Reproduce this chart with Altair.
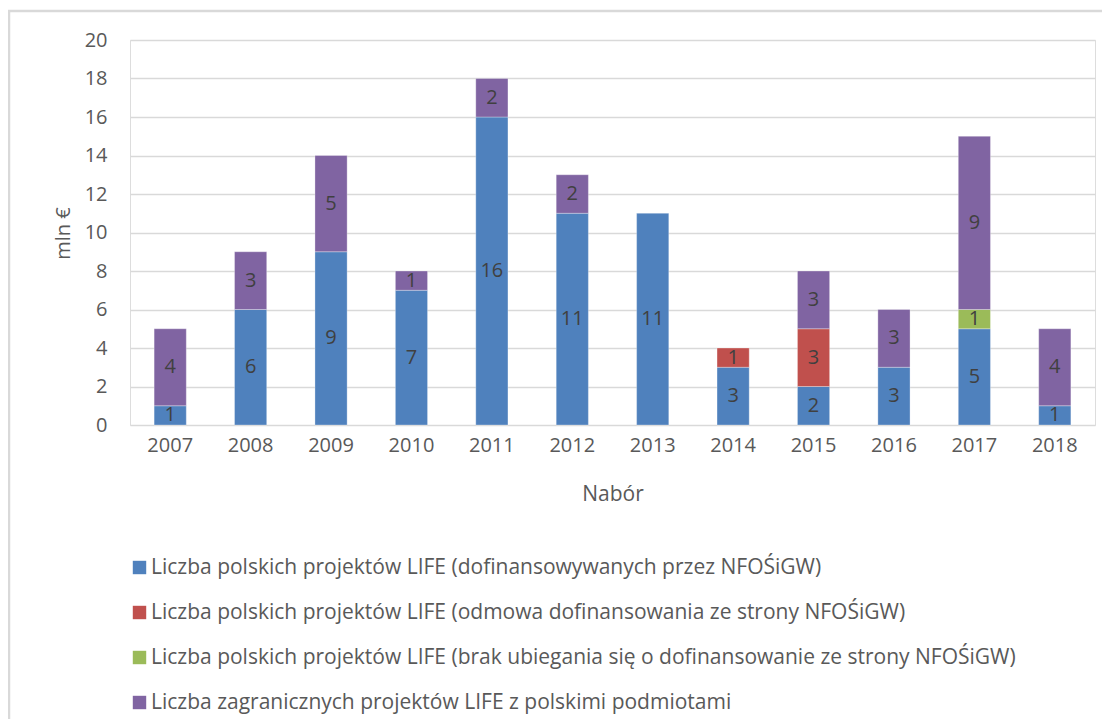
import altair as alt
import pandas as pd

years = ["2007", "2008", "2009", "2010", "2011", "2012",
         "2013", "2014", "2015", "2016", "2017", "2018"]
series_names = [
    "Liczba polskich projektów LIFE (dofinansowywanych przez NFOŚiGW)",
    "Liczba polskich projektów LIFE (odmowa dofinansowania ze strony NFOŚiGW)",
    "Liczba polskich projektów LIFE (brak ubiegania się o dofinansowanie ze strony NFOŚiGW)",
    "Liczba zagranicznych projektów LIFE z polskimi podmiotami",
]
colors = ["#4F81BD", "#C0504D", "#9BBB59", "#8064A2"]
dofinansowane = [1, 6, 9, 7, 16, 11, 11, 3, 2, 3, 5, 1]
odmowa = [0, 0, 0, 0, 0, 0, 0, 1, 3, 0, 0, 0]
brak = [0, 0, 0, 0, 0, 0, 0, 0, 0, 0, 1, 0]
zagraniczne = [4, 3, 5, 1, 2, 2, 0, 0, 3, 3, 9, 4]
y_ticks = [0, 2, 4, 6, 8, 10, 12, 14, 16, 18, 20]

rows = []
for si, (name, vals) in enumerate(zip(series_names, [dofinansowane, odmowa, brak, zagraniczne])):
    for yr, v in zip(years, vals):
        if v > 0:
            rows.append({"rok": yr, "seria": name, "wartosc": v, "kolejnosc": si})
df = pd.DataFrame(rows)

FONT = "Open Sans"
GRAY = "#595959"

base = alt.Chart(df).transform_stack(
    stack="wartosc", groupby=["rok"], as_=["y0", "y1"],
    sort=[alt.SortField("kolejnosc", order="ascending")]
).transform_calculate(mid="(datum.y0 + datum.y1) / 2")

y_scale = alt.Scale(domain=[0, 20], nice=False)
y_axis = alt.Axis(title="mln €", values=y_ticks, labelOverlap=False, domain=False, ticks=False,
                  gridColor="#d9d9d9", gridWidth=1.5,
                  labelPadding=23, labelFontSize=20, labelColor=GRAY, labelFont=FONT,
                  titleFont=FONT, titleFontSize=20, titleColor=GRAY,
                  titleFontWeight="normal", titleX=-67, titleY=193,
                  titleAlign="center", titleBaseline="middle")

x_enc = alt.X("rok:N", sort=years,
              scale=alt.Scale(paddingInner=0.6, paddingOuter=0.3),
              axis=alt.Axis(title="Nabór", labelAngle=0, ticks=False, domain=False,
                            labelPadding=10, labelFontSize=20, labelColor=GRAY, labelFont=FONT,
                            titleFont=FONT, titleFontSize=21, titleColor=GRAY,
                            titleFontWeight="normal", titleY=69, titleBaseline="middle"))

bars = base.mark_bar(stroke="#ffffff", strokeWidth=0.5, strokeOpacity=0.6).encode(
    x=x_enc,
    y=alt.Y("y0:Q", scale=y_scale, axis=y_axis),
    y2="y1:Q",
    color=alt.Color("seria:N", scale=alt.Scale(domain=series_names, range=colors),
                    legend=alt.Legend(title=None, orient="none", legendX=-1, legendY=517,
                                      direction="vertical", symbolType="square",
                                      symbolSize=180, symbolStrokeWidth=0,
                                      labelFontSize=21, labelColor=GRAY, labelFont=FONT,
                                      labelLimit=1000, rowPadding=23, labelOffset=1,
                                      padding=0)),
)

labels = base.mark_text(fontSize=20, font=FONT, color="#404040", baseline="middle").encode(
    x=alt.X("rok:N", sort=years),
    y=alt.Y("mid:Q", scale=y_scale, axis=y_axis),
    text="wartosc:Q",
)

border = alt.Chart(pd.DataFrame({"b": [0]})).mark_rect(
    fill=None, fillOpacity=0, stroke="#d9d9d9", strokeWidth=2.5
).encode(x=alt.value(-121), x2=alt.value(1200), y=alt.value(-29), y2=alt.value(800))

chart = alt.layer(border, bars, labels).properties(
    width=965, height=385,
    autosize=alt.AutoSizeParams(type="none"),
    padding={"left": 122, "top": 32, "right": 7, "bottom": 294},
).configure_view(stroke=None).configure(background="white")

chart.save("out.html", embed_options={"renderer": "svg", "actions": False})
